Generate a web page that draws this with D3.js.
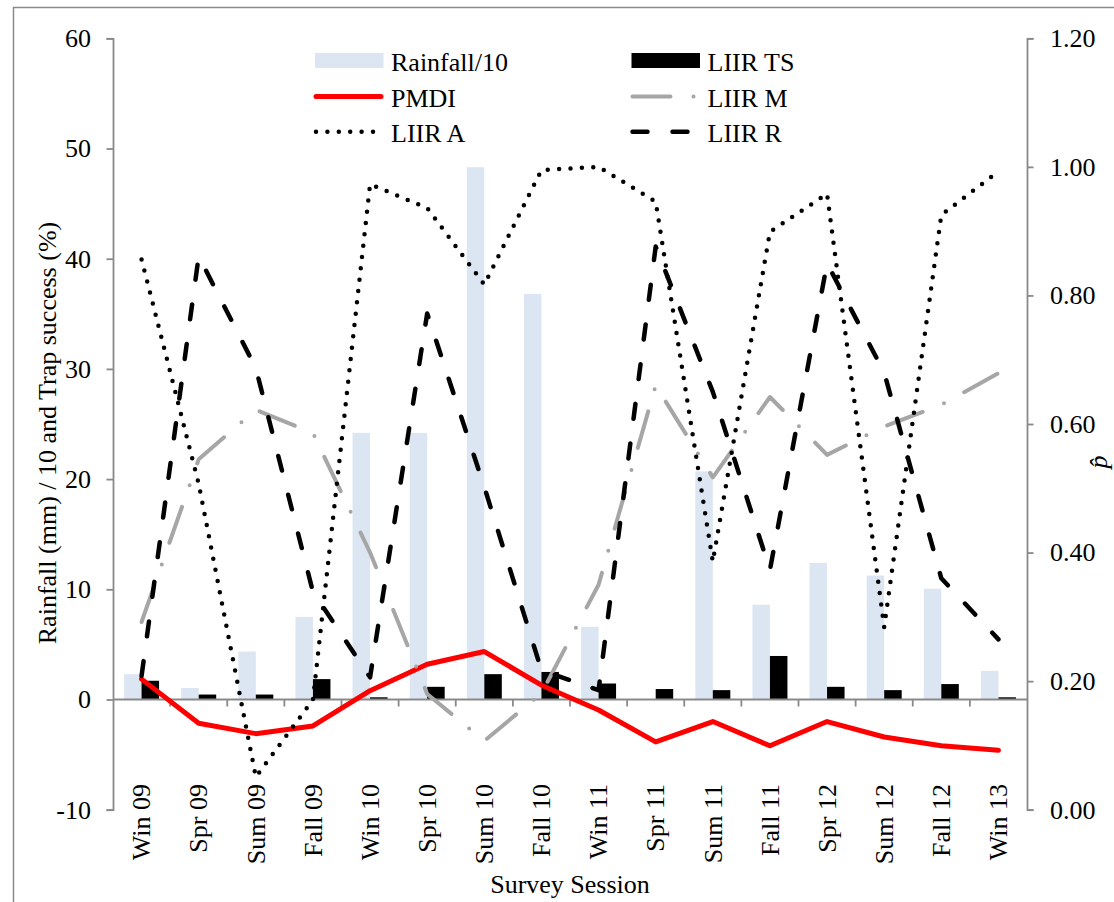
<!DOCTYPE html>
<html>
<head>
<meta charset="utf-8">
<script src="https://cdn.jsdelivr.net/npm/d3@7"></script>
<style>
  html, body { margin: 0; padding: 0; background: #fff; }
  svg { display: block; }
  svg text { font-family: "Liberation Serif", "Times New Roman", serif; fill: #000; }
</style>
</head>
<body>
<div id="chart"></div>
<script>
// Survey sessions (x categories)
const sessions = ["Win 09","Spr 09","Sum 09","Fall 09","Win 10","Spr 10","Sum 10","Fall 10",
                  "Win 11","Spr 11","Sum 11","Fall 11","Spr 12","Sum 12","Fall 12","Win 13"];

// Primary axis series: rainfall (mm)/10, trap success (%), PMDI
const rainfall10 = [2.3, 1.05, 4.35, 7.5, 24.2, 24.2, 48.3, 36.8, 6.6, 0, 20.7, 8.6, 12.4, 11.25, 10.05, 2.6];
const liirTS     = [1.7, 0.45, 0.45, 1.85, 0.2, 1.15, 2.3, 2.5, 1.45, 0.95, 0.85, 3.95, 1.15, 0.85, 1.4, 0.2];
const pmdi       = [1.85, -2.15, -3.1, -2.4, 0.8, 3.2, 4.35, 1.3, -0.95, -3.85, -2.0, -4.2, -2.0, -3.4, -4.2, -4.6];

// Secondary axis series: p-hat estimates
const liirM = [0.292, 0.545, 0.622, 0.586, 0.400, 0.180, 0.107, 0.181, 0.350, 0.660, 0.517, 0.642, 0.552, 0.596, 0.630, 0.679];
const liirA = [0.856, 0.507, 0.051, 0.171, 0.973, 0.936, 0.817, 0.995, 1.000, 0.946, 0.386, 0.899, 0.958, 0.284, 0.925, 0.993];
const liirR = [0.208, 0.861, 0.687, 0.339, 0.206, 0.772, 0.502, 0.217, 0.186, 0.876, 0.650, 0.373, 0.850, 0.680, 0.360, 0.265];

// Axis ticks
const leftTicks  = [-10, 0, 10, 20, 30, 40, 50, 60];
const rightTicks = [0, 0.2, 0.4, 0.6, 0.8, 1.0, 1.2];

const W = 1114, H = 902;
const plot = { left: 113, right: 1027, top: 38.3, bottom: 809.7 };
const FONT = 26;
const SERIF = "Liberation Serif";
const axisColor = "#898989";

const svg = d3.select("#chart").append("svg").attr("width", W).attr("height", H);

// Chart-area border
svg.append("rect")
  .attr("x", 13.5).attr("y", 7.5)
  .attr("width", W).attr("height", H)
  .attr("fill", "none").attr("stroke", "#8a8a8a").attr("stroke-width", 1.5);

const x = d3.scaleBand().domain(sessions).range([plot.left, plot.right]).paddingInner(0).paddingOuter(0);
const xc = d => x(d) + x.bandwidth() / 2;
const sub = d3.scaleBand().domain(["rain", "ts"]).range([-17.5, 17.5]);
const yL = d3.scaleLinear().domain([-10, 60]).range([plot.bottom, plot.top]);
const yR = d3.scaleLinear().domain([0, 1.2]).range([plot.bottom, plot.top]);

// Left axis
const gL = svg.append("g").attr("transform", `translate(${plot.left},0)`)
  .call(d3.axisLeft(yL).tickValues(leftTicks).tickSize(6.5).tickPadding(15.5).tickFormat(d3.format("d")));
// Right axis
const gR = svg.append("g").attr("transform", `translate(${plot.right},0)`)
  .call(d3.axisRight(yR).tickValues(rightTicks).tickSize(6.5).tickPadding(16.5).tickFormat(d3.format(".2f")));
[gL, gR].forEach(g => {
  g.attr("font-family", SERIF).attr("font-size", FONT);
  g.select(".domain").attr("stroke", axisColor).attr("stroke-width", 1.8);
  g.selectAll(".tick line").attr("stroke", axisColor).attr("stroke-width", 1.8);
  g.selectAll(".tick text").attr("font-family", SERIF).attr("font-size", FONT).attr("fill", "#000");
});
gL.selectAll(".tick text").text(d => d < 0 ? "-" + Math.abs(d) : d);

// Bars
const bars = svg.append("g");
bars.selectAll("rect.rain").data(sessions).join("rect")
  .attr("class", "rain")
  .attr("x", (d) => xc(d) + sub("rain"))
  .attr("width", sub.bandwidth())
  .attr("y", (d, i) => yL(Math.max(0, rainfall10[i])))
  .attr("height", (d, i) => Math.abs(yL(rainfall10[i]) - yL(0)))
  .attr("fill", "#dce6f2");
bars.selectAll("rect.ts").data(sessions).join("rect")
  .attr("class", "ts")
  .attr("x", (d) => xc(d) + sub("ts"))
  .attr("width", sub.bandwidth())
  .attr("y", (d, i) => yL(Math.max(0, liirTS[i])))
  .attr("height", (d, i) => Math.abs(yL(liirTS[i]) - yL(0)))
  .attr("fill", "#000");

// Category axis at zero with boundary ticks
const y0 = yL(0);
svg.append("line").attr("x1", plot.left).attr("x2", plot.right).attr("y1", y0).attr("y2", y0)
  .attr("stroke", axisColor).attr("stroke-width", 1.8);
svg.append("g").selectAll("line").data(sessions.slice(1)).join("line")
  .attr("x1", d => x(d)).attr("x2", d => x(d))
  .attr("y1", y0).attr("y2", y0 + 7)
  .attr("stroke", axisColor).attr("stroke-width", 1.8);

// Category labels, rotated
svg.append("g").selectAll("text").data(sessions).join("text")
  .attr("transform", d => `translate(${xc(d) + 8.8},784) rotate(-90)`)
  .attr("text-anchor", "end")
  .attr("font-family", SERIF)
  .attr("font-size", FONT)
  .text(d => d);

// Lines
const lineL = d3.line().x((d, i) => xc(sessions[i])).y(d => yL(d));
const lineR = d3.line().x((d, i) => xc(sessions[i])).y(d => yR(d));

const styles = {
  pmdi: { stroke: "#ff0000", width: 5, dash: null, cap: "round" },
  m:    { stroke: "#a6a6a6", width: 4, dash: "38,23,0,23", cap: "round" },
  a:    { stroke: "#000", width: 4.5, dash: "0,11.4", cap: "round" },
  r:    { stroke: "#000", width: 4.5, dash: "15,25", cap: "round" }
};
function styled(sel, s) {
  sel.attr("fill", "none").attr("stroke", s.stroke).attr("stroke-width", s.width)
     .attr("stroke-linecap", s.cap).attr("stroke-linejoin", "round");
  if (s.dash) sel.attr("stroke-dasharray", s.dash);
  return sel;
}
styled(svg.append("path").attr("d", lineL(pmdi)), styles.pmdi);
styled(svg.append("path").attr("d", lineR(liirM)), styles.m);
styled(svg.append("path").attr("d", lineR(liirA)), styles.a);
styled(svg.append("path").attr("d", lineR(liirR)), styles.r);

// Axis titles
svg.append("text")
  .attr("transform", "translate(55.5,433) rotate(-90)")
  .attr("text-anchor", "middle").attr("font-family", SERIF).attr("font-size", FONT)
  .text("Rainfall (mm) / 10 and Trap success (%)");
svg.append("text")
  .attr("x", (plot.left + plot.right) / 2).attr("y", 893)
  .attr("text-anchor", "middle").attr("font-family", SERIF).attr("font-size", FONT)
  .text("Survey Session");
svg.append("text")
  .attr("transform", "translate(1107,462) rotate(-90)")
  .attr("text-anchor", "middle").attr("font-family", SERIF).attr("font-size", FONT).attr("font-style", "italic")
  .text("p\u0302");

// Legend
const legendItems = [
  { label: "Rainfall/10", type: "rect", fill: "#dce6f2", col: 0, row: 0 },
  { label: "LIIR TS", type: "rect", fill: "#000", col: 1, row: 0 },
  { label: "PMDI", type: "line", style: styles.pmdi, col: 0, row: 1 },
  { label: "LIIR M", type: "line", style: styles.m, col: 1, row: 1 },
  { label: "LIIR A", type: "line", style: styles.a, col: 0, row: 2 },
  { label: "LIIR R", type: "line", style: styles.r, col: 1, row: 2 }
];
const legX = [315, 631.5], legY = [60.5, 96.5, 131.7];
const leg = svg.append("g");
legendItems.forEach(it => {
  const lx = legX[it.col], ly = legY[it.row];
  if (it.type === "rect") {
    leg.append("rect").attr("x", lx).attr("y", ly - 7.5).attr("width", 68.5).attr("height", 15).attr("fill", it.fill);
  } else {
    styled(leg.append("line").attr("x1", lx + 1).attr("x2", lx + 66).attr("y1", ly).attr("y2", ly), it.style);
  }
  leg.append("text").attr("x", lx + 76).attr("y", ly + 10.5)
    .attr("font-family", SERIF).attr("font-size", FONT).text(it.label);
});
</script>
</body>
</html>
